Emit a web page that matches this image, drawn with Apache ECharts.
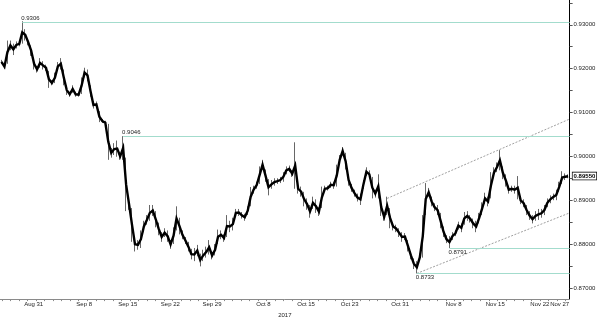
<!DOCTYPE html>
<html>
<head>
<meta charset="utf-8">
<script src="https://cdn.jsdelivr.net/npm/echarts@6/dist/echarts.min.js"></script>
<style>html,body{margin:0;padding:0;background:#fff;}#c{width:600px;height:323px;}</style>
</head>
<body>
<div id="c"></div>
<script>
// Session highs / lows (one bar ~ one third of a trading day)
const highs = [0.9220,0.9209,0.9264,0.9264,0.9257,0.9262,0.9262,0.9308,0.9290,0.9268,
0.9253,0.9224,0.9206,0.9224,0.9217,0.9209,0.9195,0.9173,0.9191,0.9215,
0.9224,0.9198,0.9162,0.9147,0.9162,0.9147,0.9145,0.9180,0.9202,0.9198,
0.9162,0.9125,0.9125,0.9103,0.9085,0.9081,0.9074,0.9019,0.9030,0.9036,
0.9008,0.9046,0.8997,0.8904,0.8882,0.8816,0.8809,0.8831,0.8853,0.8866,
0.8889,0.8889,0.8875,0.8849,0.8827,0.8836,0.8831,0.8809,0.8838,0.8886,
0.8860,0.8831,0.8816,0.8805,0.8789,0.8791,0.8798,0.8778,0.8787,0.8794,
0.8809,0.8783,0.8800,0.8833,0.8831,0.8822,0.8866,0.8853,0.8860,0.8880,
0.8880,0.8873,0.8869,0.8886,0.8930,0.8933,0.8942,0.8977,0.8992,0.8970,
0.8948,0.8946,0.8950,0.8950,0.8953,0.8964,0.8977,0.8979,0.8968,0.9032,
0.8937,0.8931,0.8919,0.8904,0.8889,0.8908,0.8902,0.8884,0.8931,0.8933,
0.8933,0.8942,0.8942,0.8981,0.9003,0.9021,0.9008,0.8959,0.8937,0.8924,
0.8915,0.8915,0.8946,0.8975,0.8968,0.8953,0.8924,0.8959,0.8904,0.8871,
0.8908,0.8882,0.8849,0.8844,0.8836,0.8827,0.8825,0.8809,0.8783,0.8767,
0.8761,0.8778,0.8866,0.8939,0.8928,0.8908,0.8893,0.8889,0.8871,0.8840,
0.8820,0.8818,0.8827,0.8831,0.8851,0.8847,0.8873,0.8875,0.8866,0.8858,
0.8853,0.8871,0.8895,0.8917,0.8908,0.8964,0.8975,0.8986,0.9014,0.8977,
0.8959,0.8933,0.8933,0.8933,0.8955,0.8908,0.8902,0.8889,0.8875,0.8866,
0.8875,0.8880,0.8880,0.8889,0.8904,0.8911,0.8915,0.8924,0.8942,0.8966,
0.8961,0.8959];
const lows = [0.9211,0.9200,0.9211,0.9242,0.9231,0.9246,0.9251,0.9257,0.9264,0.9253,
0.9229,0.9198,0.9191,0.9202,0.9198,0.9195,0.9156,0.9162,0.9167,0.9195,
0.9198,0.9162,0.9140,0.9136,0.9145,0.9136,0.9136,0.9142,0.9180,0.9171,
0.9136,0.9109,0.9112,0.9078,0.9076,0.9072,0.8992,0.8997,0.9003,0.8999,
0.8992,0.8992,0.8875,0.8878,0.8805,0.8783,0.8787,0.8791,0.8827,0.8844,
0.8853,0.8864,0.8838,0.8820,0.8805,0.8816,0.8805,0.8789,0.8800,0.8831,
0.8822,0.8811,0.8800,0.8783,0.8765,0.8761,0.8772,0.8749,0.8761,0.8769,
0.8776,0.8765,0.8774,0.8800,0.8811,0.8805,0.8816,0.8827,0.8831,0.8862,
0.8864,0.8858,0.8853,0.8866,0.8886,0.8915,0.8926,0.8937,0.8970,0.8942,
0.8911,0.8926,0.8933,0.8937,0.8939,0.8942,0.8959,0.8964,0.8953,0.8926,
0.8915,0.8908,0.8886,0.8878,0.8860,0.8880,0.8871,0.8864,0.8882,0.8919,
0.8922,0.8928,0.8926,0.8931,0.8981,0.9003,0.8970,0.8933,0.8919,0.8908,
0.8897,0.8889,0.8926,0.8955,0.8950,0.8904,0.8906,0.8904,0.8864,0.8853,
0.8866,0.8836,0.8831,0.8827,0.8816,0.8805,0.8809,0.8783,0.8765,0.8743,
0.8733,0.8761,0.8769,0.8866,0.8908,0.8886,0.8875,0.8866,0.8836,0.8816,
0.8802,0.8791,0.8809,0.8818,0.8833,0.8827,0.8844,0.8853,0.8849,0.8836,
0.8827,0.8847,0.8866,0.8891,0.8886,0.8904,0.8950,0.8964,0.8968,0.8948,
0.8931,0.8915,0.8919,0.8915,0.8902,0.8891,0.8884,0.8866,0.8855,0.8847,
0.8853,0.8855,0.8860,0.8866,0.8884,0.8893,0.8900,0.8900,0.8919,0.8937,
0.8946,0.8950];
const lastPrice = 0.89550;

// date labels and their position in bar units
const dateLabels = ['Aug 31','Sep 8','Sep 15','Sep 22','Sep 29','Oct 8','Oct 15','Oct 23','Oct 31','Nov 8','Nov 15','Nov 22','Nov 27'];
const datePos = [11.35,28.38,43.07,57.43,71.45,88.81,103.17,117.86,134.89,152.92,166.94,181.97,188.65];
const yearLabel = '2017';

// price axis labels
const priceTicks = [0.87,0.88,0.89,0.90,0.91,0.92,0.93];
const priceMinorTicks = [0.87,0.875,0.88,0.885,0.89,0.895,0.90,0.905,0.91,0.915,0.92,0.925,0.93,0.935];

// horizontal support/resistance levels: value and bar index where they start
const levelValues = [0.9306, 0.9046, 0.8791, 0.8733];
const levelStart = [7, 41, 151, 140];
const levelLabelSide = ['top','top','bottom','bottom'];

// channel lines: [bar, value] end points
const channelUpper = [[130.5, 0.8904],[192, 0.9085]];
const channelLower = [[140.5, 0.8733],[192, 0.8871]];

const N = highs.length;
const categories = highs.map((_, i) => 'b' + i);
const candles = highs.map((h, i) => [lows[i], h, lows[i], h]);
const mids = highs.map((h, i) => [i + 0.5, (h + lows[i]) / 2]);

const font = 'Liberation Sans, Arial, sans-serif';
const teal = '#a3dccd';

const tickVals = [];
for (let t = 0.6; t < N; t += 2.88) tickVals.push(+t.toFixed(2));

const levelMarks = levelValues.map((v, k) => [
  {coord: [levelStart[k] + 0.5, v],
   label: {show: true, formatter: v.toFixed(4),
     position: levelLabelSide[k] === 'top' ? 'insideStartTop' : 'insideStartBottom',
     distance: [ -1, 1 ], fontFamily: font, fontSize: 6, color: '#222'}},
  {coord: [N, v]}
]);

const series = [{
  type: 'candlestick',
  xAxisIndex: 0, yAxisIndex: 0,
  data: candles,
  barWidth: 1,
  itemStyle: {color: '#000', color0: '#000', borderColor: '#000', borderColor0: '#000', borderWidth: 0.6},
  z: 3
}, {
  type: 'line', xAxisIndex: 1, yAxisIndex: 0, data: mids, symbol: 'none', silent: true, z: 3,
  lineStyle: {color: '#000', width: 2.4, join: 'miter'}
}, {
  type: 'line', xAxisIndex: 1, yAxisIndex: 0, data: [], silent: true, z: 1,
  markLine: {
    silent: true, symbol: 'none', animation: false,
    lineStyle: {color: teal, width: 1.2, type: 'solid'},
    data: levelMarks
  }
}];

[channelUpper, channelLower].forEach(ch => {
  series.push({
    type: 'line', xAxisIndex: 1, yAxisIndex: 0, symbol: 'none', silent: true, z: 1,
    lineStyle: {color: '#888', width: 0.8, type: [2, 1.5]},
    data: ch
  });
});

const chart = echarts.init(document.getElementById('c'), null, {renderer: 'canvas'});
chart.setOption({
  animation: false,
  backgroundColor: '#fff',
  grid: {left: 0, right: 25, top: 0, bottom: 14, containLabel: false},
  xAxis: [{
    type: 'category', data: categories, boundaryGap: true, show: false
  }, {
    type: 'value', min: 0, max: N, position: 'bottom',
    splitLine: {show: false},
    axisLine: {show: true, onZero: false, lineStyle: {color: '#8a8a8a', width: 1}},
    axisTick: {show: true, length: 2, inside: false, customValues: tickVals, lineStyle: {color: '#8a8a8a'}},
    axisLabel: {show: true, customValues: datePos, margin: 2, fontFamily: font, fontSize: 6, color: '#222',
      formatter: (val) => { const k = datePos.findIndex(p => Math.abs(p - val) < 0.01); return k >= 0 ? dateLabels[k] : ''; }},
    name: yearLabel, nameLocation: 'middle', nameGap: 8,
    nameTextStyle: {fontFamily: font, fontSize: 6, color: '#222'}
  }],
  yAxis: [{
    type: 'value', position: 'right', min: 0.86744, max: 0.93565,
    splitLine: {show: false},
    axisLine: {show: true, onZero: false, lineStyle: {color: '#000', width: 1}},
    axisTick: {show: true, length: 3, customValues: priceMinorTicks, lineStyle: {color: '#555'}},
    axisLabel: {show: true, customValues: priceTicks, margin: 4, fontFamily: font, fontSize: 6, color: '#222',
      formatter: (v) => v.toFixed(5)}
  }, {
    type: 'value', position: 'right', min: 0.86744, max: 0.93565,
    splitLine: {show: false}, axisLine: {show: false, onZero: false}, axisTick: {show: false},
    axisLabel: {show: true, customValues: [lastPrice], margin: 3, fontFamily: font, fontSize: 6, color: '#000',
      fontWeight: 'bold', backgroundColor: '#fff', borderColor: '#000', borderWidth: 0.7, padding: [1, 1, 0, 1],
      formatter: (v) => v.toFixed(5)}
  }],
  series: series
});
</script>
</body>
</html>
